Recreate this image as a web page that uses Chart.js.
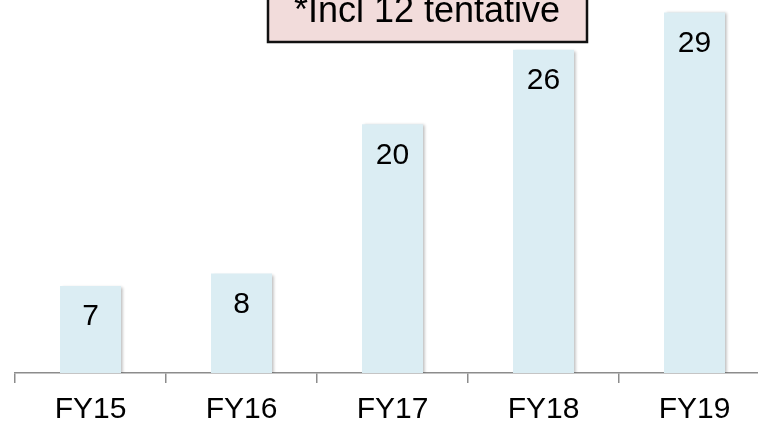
<!DOCTYPE html>
<html>
<head>
<meta charset="utf-8">
<script src="https://cdn.jsdelivr.net/npm/chart.js@4"></script>
<style>
  html, body { margin: 0; padding: 0; background: #ffffff; overflow: hidden; }
  #wrap { width: 758px; height: 424px; position: relative; overflow: hidden; }
  #chart { display: block; }
</style>
</head>
<body>
<div id="wrap"><canvas id="chart" width="770" height="424"></canvas></div>
<script>
// Fiscal years and counts per year
const categories = ['FY15', 'FY16', 'FY17', 'FY18', 'FY19'];
const counts = [7, 8, 20, 26, 29];
const noteText = '*Incl 12 tentative';

const FONT = '"Liberation Sans", Arial, Helvetica, sans-serif';

// Soft drop shadow under the bars
const barShadow = {
  id: 'barShadow',
  beforeDatasetDraw(chart) {
    const ctx = chart.ctx;
    ctx.save();
    ctx.shadowColor = 'rgba(0,0,0,0.28)';
    ctx.shadowBlur = 3;
    ctx.shadowOffsetX = 2;
    ctx.shadowOffsetY = 1;
  },
  afterDatasetDraw(chart) {
    chart.ctx.restore();
  }
};

// Value printed inside each bar, just under its top edge
const valueLabels = {
  id: 'valueLabels',
  afterDatasetsDraw(chart) {
    const ctx = chart.ctx;
    const meta = chart.getDatasetMeta(0);
    ctx.save();
    ctx.font = '30px ' + FONT;
    ctx.fillStyle = '#000000';
    ctx.textAlign = 'center';
    ctx.textBaseline = 'middle';
    meta.data.forEach((bar, i) => {
      ctx.fillText(String(counts[i]), bar.x, bar.y + 31);
    });
    ctx.restore();
  }
};

// Footnote box across the top
const noteBox = {
  id: 'noteBox',
  afterDraw(chart) {
    const ctx = chart.ctx;
    ctx.save();
    ctx.fillStyle = '#f2dcdb';
    ctx.strokeStyle = '#111111';
    ctx.lineWidth = 2.5;
    ctx.beginPath();
    ctx.rect(268, -10, 319, 52);
    ctx.fill();
    ctx.stroke();
    ctx.font = '36px ' + FONT;
    ctx.fillStyle = '#000000';
    ctx.textAlign = 'center';
    ctx.textBaseline = 'alphabetic';
    ctx.fillText(noteText, 427, 22);
    ctx.restore();
  }
};

new Chart(document.getElementById('chart'), {
  type: 'bar',
  data: {
    labels: categories,
    datasets: [{
      data: counts,
      backgroundColor: '#dbedf3',
      borderWidth: 0,
      categoryPercentage: 1,
      barPercentage: 0.404
    }]
  },
  options: {
    responsive: false,
    maintainAspectRatio: false,
    animation: false,
    layout: { padding: { left: 15, right: 0, top: 0, bottom: 0 } },
    plugins: {
      legend: { display: false },
      tooltip: { enabled: false }
    },
    scales: {
      x: {
        afterFit(scale) { scale.height = 51; },
        grid: {
          display: true,
          drawOnChartArea: false,
          drawTicks: true,
          tickLength: 10,
          color: '#8c8c8c',
          lineWidth: 1.5,
          offset: true
        },
        border: { display: true, color: '#8c8c8c', width: 1.5 },
        ticks: {
          color: '#000000',
          padding: 12,
          font: { family: FONT, size: 30, lineHeight: 1 }
        }
      },
      y: {
        display: false,
        min: 0,
        max: 30
      }
    }
  },
  plugins: [barShadow, valueLabels, noteBox]
});
</script>
</body>
</html>
